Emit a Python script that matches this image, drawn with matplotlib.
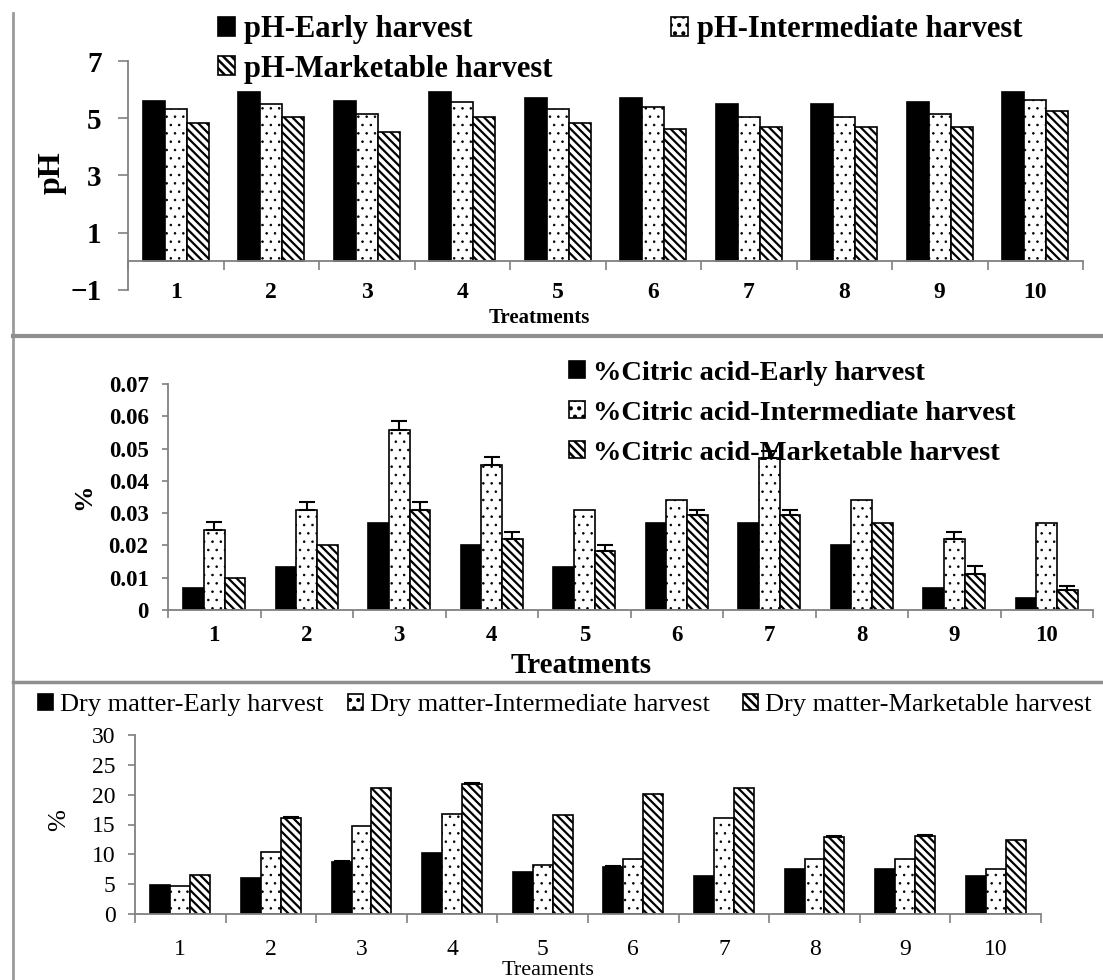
import matplotlib
matplotlib.use('Agg')
import matplotlib.pyplot as plt
import numpy as np
from matplotlib.lines import Line2D

plt.rcParams['font.family'] = ['Liberation Serif', 'DejaVu Serif']
plt.rcParams['hatch.linewidth'] = 1.8
plt.rcParams['hatch.color'] = 'black'

# ---------------- data ----------------
treatments = ['1', '2', '3', '4', '5', '6', '7', '8', '9', '10']

ph_early = [5.61, 5.93, 5.61, 5.93, 5.72, 5.72, 5.51, 5.51, 5.58, 5.93]
ph_inter = [5.31, 5.50, 5.16, 5.58, 5.31, 5.38, 5.03, 5.03, 5.16, 5.63]
ph_market = [4.83, 5.03, 4.51, 5.03, 4.83, 4.62, 4.69, 4.69, 4.69, 5.24]
ph_labels = ['pH-Early harvest', 'pH-Intermediate harvest', 'pH-Marketable harvest']
ph_ticks = [-1, 1, 3, 5, 7]
ph_ticklabels = ['\u22121', '1', '3', '5', '7']

ca_early = [0.0069, 0.0134, 0.0269, 0.0202, 0.0134, 0.0269, 0.0269, 0.0202, 0.0069, 0.0038]
ca_inter = [0.0248, 0.0309, 0.0558, 0.0450, 0.0309, 0.0340, 0.0470, 0.0340, 0.0219, 0.0269]
ca_inter_err = [0.0024, 0.0025, 0.0026, 0.0024, 0, 0, 0.0022, 0, 0.0024, 0]
ca_market = [0.0098, 0.0201, 0.0309, 0.0219, 0.0184, 0.0293, 0.0293, 0.0269, 0.0111, 0.0062]
ca_market_err = [0, 0, 0.0025, 0.0024, 0.0017, 0.0018, 0.0018, 0, 0.0024, 0.0012]
ca_labels = ['%Citric acid-Early harvest', '%Citric acid-Intermediate harvest',
             '%Citric acid-Marketable harvest']
ca_ticks = [0, 0.01, 0.02, 0.03, 0.04, 0.05, 0.06, 0.07]
ca_ticklabels = ['0', '0.01', '0.02', '0.03', '0.04', '0.05', '0.06', '0.07']

dm_early = [4.94, 5.98, 8.72, 10.2, 6.97, 7.84, 6.31, 7.6, 7.6, 6.31]
dm_early_err = [0, 0, 0.2, 0, 0, 0.2, 0, 0, 0, 0]
dm_inter = [4.77, 10.42, 14.7, 16.84, 8.23, 9.16, 16.02, 9.16, 9.16, 7.6]
dm_market = [6.58, 16.07, 21.12, 21.83, 16.6, 20.19, 21.12, 12.89, 13.0, 12.34]
dm_market_err = [0, 0.2, 0, 0.2, 0, 0, 0, 0.2, 0.2, 0]
dm_labels = ['Dry matter-Early harvest', 'Dry matter-Intermediate harvest',
             'Dry matter-Marketable harvest']
dm_ticks = [0, 5, 10, 15, 20, 25, 30]
dm_ticklabels = ['0', '5', '10', '15', '20', '25', '30']

# ---------------- figure ----------------
W, H = 1103, 980
fig = plt.figure(figsize=(W / 100, H / 100), dpi=100)
GRAY = '#808080'
SERIF = ['Liberation Serif', 'DejaVu Serif']


def fx(px):
    return px / W


def fy(py):
    return 1 - py / H


def axes_px(l, t, r, b):
    return fig.add_axes([fx(l), fy(b), (r - l) / W, (b - t) / H])


xpos = np.arange(len(treatments))
STYLES = [dict(facecolor='black', edgecolor='black'),
          dict(facecolor='white', edgecolor='black', hatch='..'),
          dict(facecolor='white', edgecolor='black', hatch='\\\\\\\\')]
HATCH_LW = [1.0, 0.6, 1.6]


def draw_bars(ax, series, width, errs):
    conts = []
    for i, (vals, err) in enumerate(zip(series, errs)):
        off = (i - 1) * width
        with plt.rc_context({'hatch.linewidth': HATCH_LW[i]}):
            c = ax.bar(xpos + off, vals, width, linewidth=1.2, zorder=2, **STYLES[i])
        for p in c.patches:
            if hasattr(p, 'set_hatch_linewidth'):
                p.set_hatch_linewidth(HATCH_LW[i])
        conts.append(c)
        if err is not None:
            e = np.array(err)
            v = np.array(vals)
            m = e > 0
            ax.errorbar(xpos[m] + off, v[m], yerr=[np.zeros(m.sum()), e[m]], fmt='none',
                        ecolor='black', elinewidth=1.5, capsize=6, capthick=1.5, zorder=3)
    return conts


def style_axis(ax, yticks, yticklabels, ylim, yfs, xfs, weight, ypad, xpad, ylen, xlen,
               zero_spine=False):
    ax.set_xlim(-0.5, 9.5)
    ax.set_ylim(*ylim)
    for s in ['top', 'right']:
        ax.spines[s].set_visible(False)
    for s in ['left', 'bottom']:
        ax.spines[s].set_color(GRAY)
        ax.spines[s].set_linewidth(1.3)
    if zero_spine:
        ax.spines['bottom'].set_position(('data', 0))
    ax.set_yticks(yticks)
    ax.set_yticklabels(yticklabels, fontsize=yfs, fontweight=weight, family=SERIF)
    ax.tick_params(axis='y', direction='out', length=ylen, width=1.2, color=GRAY, pad=ypad)
    ax.set_xticks(np.arange(-0.5, 10, 1))
    ax.set_xticklabels([])
    ax.set_xticks(xpos, minor=True)
    ax.set_xticklabels(treatments, minor=True, fontsize=xfs, fontweight=weight, family=SERIF)
    ax.tick_params(axis='x', which='major', direction='out', length=xlen, width=1.2, color=GRAY)
    ax.tick_params(axis='x', which='minor', length=0, pad=xpad)


def leg_entry(handle, label, x, y, size, weight, hl=0.55, hh=0.55, tp=0.3):
    fig.legend([handle], [label], loc='center left', bbox_to_anchor=(fx(x), fy(y)),
               bbox_transform=fig.transFigure, frameon=False, borderpad=0,
               borderaxespad=0, handlelength=hl, handleheight=hh, handletextpad=tp,
               prop=dict(family=SERIF, size=size, weight=weight))


# ---- top panel: pH ----
ax1 = axes_px(128, 61, 1083, 290)
c1 = draw_bars(ax1, [ph_early, ph_inter, ph_market], 0.23, [None, None, None])
style_axis(ax1, ph_ticks, ph_ticklabels, (-1, 7), 21, 17, 'bold', 12, 15, 7, 6.5,
           zero_spine=True)
fig.text(fx(52), fy(173), 'pH', rotation=90, ha='center', va='center',
         fontsize=23, fontweight='bold', family=SERIF)
fig.text(fx(539), fy(318), 'Treatments', ha='center', va='center',
         fontsize=15, fontweight='bold', family=SERIF)
leg_entry(c1[0], ph_labels[0], 218, 30, 22, 'bold')
leg_entry(c1[2], ph_labels[2], 218, 69, 22, 'bold')
leg_entry(c1[1], ph_labels[1], 671, 30, 22, 'bold')

# ---- middle panel: citric acid ----
ax2 = axes_px(168, 384, 1093, 610)
c2 = draw_bars(ax2, [ca_early, ca_inter, ca_market], 0.224, [None, ca_inter_err, ca_market_err])
style_axis(ax2, ca_ticks, ca_ticklabels, (0, 0.07), 16.5, 16.5, 'bold', 10, 11, 4, 6)
fig.text(fx(84), fy(497), '%', rotation=90, ha='center', va='center',
         fontsize=19, fontweight='bold', family=SERIF)
fig.text(fx(581), fy(665), 'Treatments', ha='center', va='center',
         fontsize=21, fontweight='bold', family=SERIF)
leg_entry(c2[0], ca_labels[0], 569, 373, 20.5, 'bold')
leg_entry(c2[1], ca_labels[1], 569, 413, 20.5, 'bold')
leg_entry(c2[2], ca_labels[2], 569, 453, 20.5, 'bold')

# ---- bottom panel: dry matter ----
ax3 = axes_px(135, 735, 1041, 914)
c3 = draw_bars(ax3, [dm_early, dm_inter, dm_market], 0.22, [dm_early_err, None, dm_market_err])
style_axis(ax3, dm_ticks, dm_ticklabels, (0, 30), 17, 17, 'normal', 9, 18, 5, 6.5)
fig.text(fx(59), fy(820), '%', rotation=90, ha='center', va='center',
         fontsize=19, family=SERIF)
fig.text(fx(548), fy(970), 'Treaments', ha='center', va='center',
         fontsize=16, family=SERIF)
leg_entry(c3[0], dm_labels[0], 38, 705, 19, 'normal')
leg_entry(c3[1], dm_labels[1], 348, 705, 19, 'normal')
leg_entry(c3[2], dm_labels[2], 743, 705, 19, 'normal')

# ---- panel separators ----
fig.add_artist(Line2D([fx(13), fx(13)], [fy(13), fy(980)], color='#9a9a9a', lw=2))
fig.add_artist(Line2D([fx(13), fx(1103)], [fy(336), fy(336)], color='#8f8f8f', lw=3))
fig.add_artist(Line2D([fx(13), fx(1103)], [fy(682), fy(682)], color='#8f8f8f', lw=2.5))

fig.savefig('out.png', dpi=100)
